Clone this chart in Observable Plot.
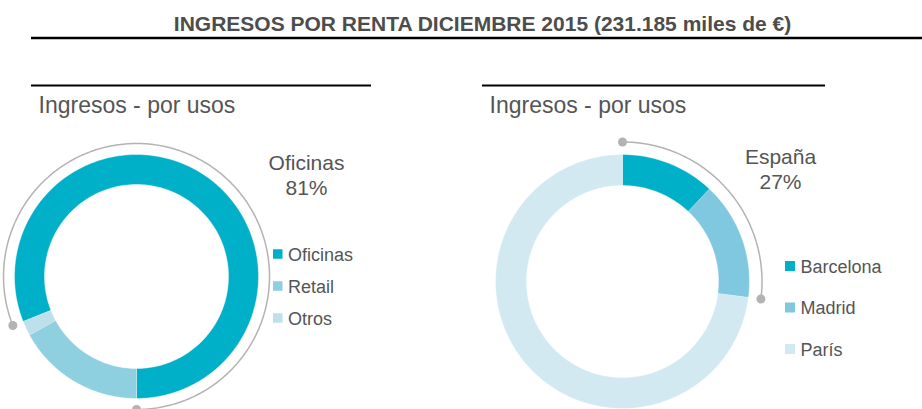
<!DOCTYPE html>
<html>
<head>
<meta charset="utf-8">
<script src="https://cdn.jsdelivr.net/npm/d3@7"></script>
<script src="https://cdn.jsdelivr.net/npm/@observablehq/plot@0.6"></script>
<style>
  html, body { margin: 0; padding: 0; background: #fff; }
</style>
</head>
<body>
<div id="chart"></div>
<script>
// ---- data ----
const title = "INGRESOS POR RENTA DICIEMBRE 2015 (231.185 miles de €)";
const subtitle = "Ingresos - por usos";

const usosCategories = ["Oficinas", "Retail", "Otros"];
const usosValues = [81, 17, 2];
const usosColors = ["#00afc8", "#8ecfe0", "#bde0ea"];
const usosHighlight = ["Oficinas", "81%"];

const zonaCategories = ["Barcelona", "Madrid", "París"];
const zonaValues = [12, 15, 73];
const zonaColors = ["#00afc8", "#80c8e0", "#d2e9f2"];
const zonaHighlight = ["España", "27%"];

// ---- layout ----
const W = 922, H = 409;
const charts = [
  { cats: usosCategories, vals: usosValues, order: ["Oficinas", "Otros", "Retail"], cx: 136, cy: 276, r0: 92, r1: 122,
    start: 180, dir: -1, arcCats: ["Oficinas"], arcR: 133,
    hl: usosHighlight, hlX: 306, hlY: [169, 194],
    legX: 273, legY0: 254, legStep: 32, legSize: 9.5,
    subX: 38, ruleX: [31, 371] },
  { cats: zonaCategories, vals: zonaValues, order: ["Barcelona", "Madrid", "París"], cx: 622, cy: 281, r0: 96, r1: 127,
    start: 0, dir: 1, arcCats: ["Barcelona", "Madrid"], arcR: 139.5,
    hl: zonaHighlight, hlX: 780, hlY: [163, 188],
    legX: 785, legY0: 266, legStep: 41.5, legSize: 10,
    subX: 489, ruleX: [482, 825] }
];

function pt(c, r, deg) {
  const a = deg * Math.PI / 180;
  return [c.cx + r * Math.sin(a), c.cy - r * Math.cos(a)];
}

const slices = [], arcs = [], arcEnds = [], legendRects = [], legendTexts = [], hlTexts = [], subTexts = [], subRules = [];
charts.forEach((c, ci) => {
  const total = d3.sum(c.vals);
  let acc = 0;
  c.order.forEach(cat => {
    const v = c.vals[c.cats.indexOf(cat)];
    const a0 = c.start + c.dir * acc / total * 360;
    const a1 = c.start + c.dir * (acc + v) / total * 360;
    acc += v;
    const n = Math.max(4, Math.ceil(Math.abs(a1 - a0) / 1.5));
    const key = ci + "-" + cat;
    for (let i = 0; i <= n; i++) {
      const [x, y] = pt(c, c.r1, a0 + (a1 - a0) * i / n);
      slices.push({ x, y, cat, key });
    }
    for (let i = n; i >= 0; i--) {
      const [x, y] = pt(c, c.r0, a0 + (a1 - a0) * i / n);
      slices.push({ x, y, cat, key });
    }
  });
  const arcVal = d3.sum(c.arcCats, k => c.vals[c.cats.indexOf(k)]);
  const b0 = c.start, b1 = c.start + c.dir * arcVal / total * 360;
  const m = Math.ceil(Math.abs(b1 - b0));
  for (let i = 0; i <= m; i++) {
    const [x, y] = pt(c, c.arcR, b0 + (b1 - b0) * i / m);
    arcs.push({ x, y, key: ci });
  }
  [b0, b1].forEach(b => { const [x, y] = pt(c, c.arcR, b); arcEnds.push({ x, y }); });
  c.cats.forEach((cat, i) => {
    const yc = c.legY0 + i * c.legStep;
    legendRects.push({ x1: c.legX, x2: c.legX + c.legSize, y1: yc - c.legSize / 2, y2: yc + c.legSize / 2, cat });
    legendTexts.push({ x: c.legX + c.legSize + 5, y: yc + 6, text: cat });
  });
  hlTexts.push({ x: c.hlX, y: c.hlY[0], text: c.hl[0] });
  hlTexts.push({ x: c.hlX, y: c.hlY[1], text: c.hl[1] });
  subTexts.push({ x: c.subX, y: 112, text: subtitle });
  subRules.push({ x1: c.ruleX[0], x2: c.ruleX[1], y: 85 });
});

const textColor = "#555555";

const plot = Plot.plot({
  width: W, height: H,
  margin: 0,
  style: { fontFamily: "'Liberation Sans', Arial, sans-serif", background: "#fff" },
  x: { domain: [0, W], range: [0, W], axis: null },
  y: { domain: [0, H], range: [0, H], axis: null },
  color: { domain: [...usosCategories, ...zonaCategories], range: [...usosColors, ...zonaColors] },
  marks: [
    Plot.ruleY([37.5], { x1: 31, x2: W, stroke: "#000", strokeWidth: 2.5 }),
    Plot.text([title], { x: 482, y: 30, text: d => d, fontSize: 21, fontWeight: "bold", fill: "#4d4d4d", lineAnchor: "bottom", textAnchor: "middle" }),
    Plot.ruleY(subRules, { x1: "x1", x2: "x2", y: "y", stroke: "#000", strokeWidth: 2 }),
    Plot.text(subTexts, { x: "x", y: "y", text: "text", fontSize: 23, fill: textColor, textAnchor: "start", lineAnchor: "bottom" }),
    Plot.line(slices, { x: "x", y: "y", z: "key", fill: "cat", stroke: "white", strokeWidth: 0.4, curve: "linear" }),
    Plot.line(arcs, { x: "x", y: "y", z: "key", stroke: "#b3b3b3", strokeWidth: 1.5 }),
    Plot.dot(arcEnds, { x: "x", y: "y", r: 4.5, fill: "#b3b3b3", stroke: "none" }),
    Plot.text(hlTexts, { x: "x", y: "y", text: "text", fontSize: 21, fill: textColor, textAnchor: "middle", lineAnchor: "bottom" }),
    Plot.rect(legendRects, { x1: "x1", x2: "x2", y1: "y1", y2: "y2", fill: "cat" }),
    Plot.text(legendTexts, { x: "x", y: "y", text: "text", fontSize: 18, fill: textColor, textAnchor: "start", lineAnchor: "bottom" })
  ]
});
document.getElementById("chart").appendChild(plot);
</script>
</body>
</html>
